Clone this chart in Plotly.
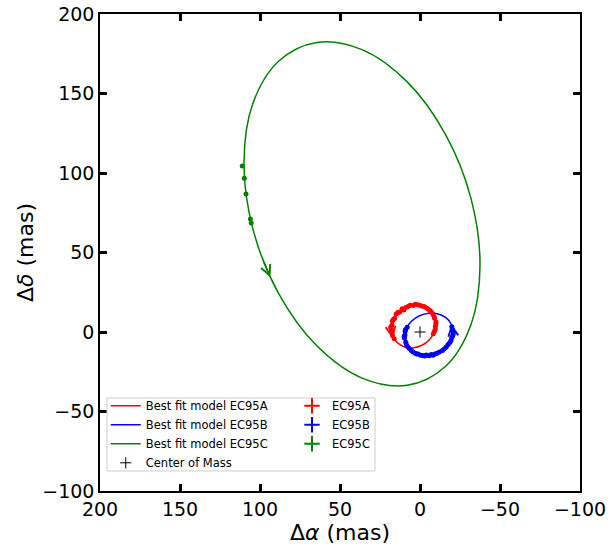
import plotly.graph_objects as go

# ---- orbit model curves ----
modelA_x = [17.9, 16.85, 13.84, 9.35, 4.05, -1.25, -5.74, -8.75, -9.8, -8.75, -5.74, -1.25, 4.05, 9.35, 13.84, 16.85, 17.9]
modelA_y = [2.06, 7.31, 11.97, 15.35, 16.92, 16.45, 14.01, 9.97, 4.94, -0.31, -4.97, -8.35, -9.92, -9.45, -7.01, -2.97, 2.06]
modelB_x = [9.6, 8.45, 5.18, 0.28, -5.5, -11.28, -16.18, -19.45, -20.6, -19.45, -16.18, -11.28, -5.5, 0.28, 5.18, 8.45, 9.6]
modelB_y = [-2.9, 2.27, 6.87, 10.23, 11.8, 11.37, 8.99, 5.05, 0.1, -5.07, -9.67, -13.03, -14.6, -14.17, -11.79, -7.85, -2.9]
modelC_x = [110.0, 104.4, 88.4, 64.5, 36.25, 8.0, -15.9, -31.9, -37.5, -31.9, -15.9, 8.0, 36.25, 64.5, 88.4, 104.4, 110.0]
modelC_y = [106.8, 143.9, 170.3, 182.1, 177.6, 157.3, 124.3, 83.9, 41.8, 4.7, -21.7, -33.5, -29.0, -8.7, 24.3, 64.7, 106.8]

# ---- observations ----
obsA_x = [-8.3, -9.5, -9.6, -10.0, -9.1, -8.1, -6.3, -5.0, -2.6, -0.9, 1.9, 4.2, 6.2, 8.9, 11.2, 12.7, 14.9, 15.8, 17.3, 17.5, 18.1, 17.4, 17.2, 16.1,
          -9.0, -9.9, -8.8, -7.2, -3.9, 0.5, 3.0, 7.5, 10.1, 13.9, 16.6, 18.3, 17.8]
obsA_y = [-1.1, 1.6, 3.5, 6.3, 8.6, 11.2, 13.5, 14.5, 16.1, 16.4, 17.2, 16.7, 16.8, 15.4, 14.7, 12.6, 11.3, 8.7, 6.9, 4.2, 2.3, -0.5, -2.2, -4.3,
          0.3, 5.0, 9.8, 12.4, 15.3, 17.0, 17.4, 16.0, 13.9, 12.2, 7.9, 3.2, 1.0]
obsA_err = [0.8] * 37
obsB_x = [8.0, 9.3, 9.4, 9.7, 8.9, 8.4, 6.7, 5.4, 3.0, 1.1, -1.8, -4.0, -7.0, -9.2, -12.1, -14.0, -16.4, -17.6, -19.4, -19.9, -20.8, -20.3, -19.9,
          9.0, 9.9, 7.7, 4.3, 2.0, -0.4, -2.9, -5.6, -8.1, -10.6, -15.3, -18.6, -20.5]
obsB_y = [3.0, 0.4, -1.9, -3.8, -6.5, -8.1, -10.4, -11.6, -13.3, -13.8, -14.8, -14.5, -14.2, -13.9, -12.5, -11.6, -9.4, -7.9, -5.4, -3.5, -0.9, 1.4, 3.3,
          1.5, -2.9, -9.2, -12.5, -13.9, -14.6, -15.1, -14.9, -14.6, -13.3, -10.6, -6.6, -2.2]
obsB_err = [0.8] * 36
obsC_x = [111.1, 109.8, 108.75, 106.0, 105.5]
obsC_y = [104.4, 96.7, 86.8, 71.0, 68.5]
obsC_err = [0.8] * 5

com_x = [0]
com_y = [0]

# direction arrows: (head_x, head_y, tail_x, tail_y)
arrows = {
    "red": (17.2, -4.0, 17.9, 0.5),
    "blue": (-19.6, 5.0, -20.5, -0.5),
    "green": (93.5, 34.5, 98.0, 45.0),
}

xticks = [200, 150, 100, 50, 0, -50, -100]
xtick_text = ["200", "150", "100", "50", "0", "\u221250", "\u2212100"]
yticks = [-100, -50, 0, 50, 100, 150, 200]
ytick_text = ["\u2212100", "\u221250", "0", "50", "100", "150", "200"]

RED, BLUE, GREEN = "#ff0000", "#0000ff", "#008000"
FONT = "DejaVu Sans"

fig = go.Figure()

for xs, ys, c in [(modelA_x, modelA_y, RED), (modelB_x, modelB_y, BLUE), (modelC_x, modelC_y, GREEN)]:
    fig.add_trace(go.Scatter(x=xs, y=ys, mode="lines", line=dict(color=c, width=1.5, shape="spline"),
                             showlegend=False, hoverinfo="skip"))

for xs, ys, es, c in [(obsA_x, obsA_y, obsA_err, RED), (obsB_x, obsB_y, obsB_err, BLUE), (obsC_x, obsC_y, obsC_err, GREEN)]:
    fig.add_trace(go.Scatter(x=xs, y=ys, mode="markers",
                             marker=dict(color=c, size=5),
                             error_x=dict(type="data", array=es, color=c, thickness=1.5, width=0),
                             error_y=dict(type="data", array=es, color=c, thickness=1.5, width=0),
                             showlegend=False))

fig.add_trace(go.Scatter(x=com_x, y=com_y, mode="markers",
                         marker=dict(symbol="cross-thin", size=8, line=dict(color="black", width=1)),
                         showlegend=False))

# legend entries (column 1)
for name, c in [("Best fit model EC95A", RED), ("Best fit model EC95B", BLUE), ("Best fit model EC95C", GREEN)]:
    fig.add_trace(go.Scatter(x=[None], y=[None], mode="lines", line=dict(color=c, width=1.5),
                             name=name, legend="legend"))
fig.add_trace(go.Scatter(x=[None], y=[None], mode="markers", name="Center of Mass", legend="legend",
                         marker=dict(symbol="cross-thin", size=8, line=dict(color="black", width=1))))
# legend entries (column 2)
for name, c in [("EC95A", RED), ("EC95B", BLUE), ("EC95C", GREEN)]:
    fig.add_trace(go.Scatter(x=[None], y=[None], mode="markers", name=name, legend="legend2",
                             marker=dict(symbol="cross-thin", size=11, color=c, line=dict(color=c, width=2))))

for key, c in [("red", RED), ("blue", BLUE), ("green", GREEN)]:
    hx, hy, tx, ty = arrows[key]
    fig.add_annotation(x=hx, y=hy, ax=tx, ay=ty, xref="x", yref="y", axref="x", ayref="y",
                       showarrow=True, arrowhead=5, arrowsize=1.3, arrowwidth=1.5, arrowcolor=c, text="")

# legend frame
fig.add_shape(type="rect", xref="paper", yref="paper", x0=0.0146, x1=0.573, y0=0.042, y1=0.195,
              line=dict(color="#cccccc", width=1), fillcolor="rgba(255,255,255,0.8)", layer="above")

axis_common = dict(showgrid=False, zeroline=False, showline=True, linecolor="black", linewidth=1.5,
                   mirror="ticks", ticks="inside", ticklen=7, tickwidth=3, tickcolor="black",
                   tickfont=dict(family=FONT, size=19, color="black"))

fig.update_layout(
    width=608, height=550,
    margin=dict(l=100, r=28, t=14, b=59),
    plot_bgcolor="white", paper_bgcolor="white",
    font=dict(family=FONT, color="black"),
    xaxis=dict(range=[200, -100], tickvals=xticks, ticktext=xtick_text, automargin=False,
               title=dict(text="\u0394<i>\u03b1</i> (mas)", font=dict(family=FONT, size=22), standoff=4),
               **axis_common),
    yaxis=dict(range=[-100, 200], tickvals=yticks, ticktext=ytick_text, automargin=False,
               title=dict(text="\u0394<i>\u03b4</i> (mas)", font=dict(family=FONT, size=22), standoff=3),
               **axis_common),
    legend=dict(x=0.012, y=0.209, xanchor="left", yanchor="top", bgcolor="rgba(0,0,0,0)",
                borderwidth=0, font=dict(family=FONT, size=11.5), tracegroupgap=0),
    legend2=dict(x=0.40, y=0.209, xanchor="left", yanchor="top", bgcolor="rgba(0,0,0,0)",
                 borderwidth=0, font=dict(family=FONT, size=11.5), tracegroupgap=0),
    showlegend=True,
)

fig.write_html("out.html")
